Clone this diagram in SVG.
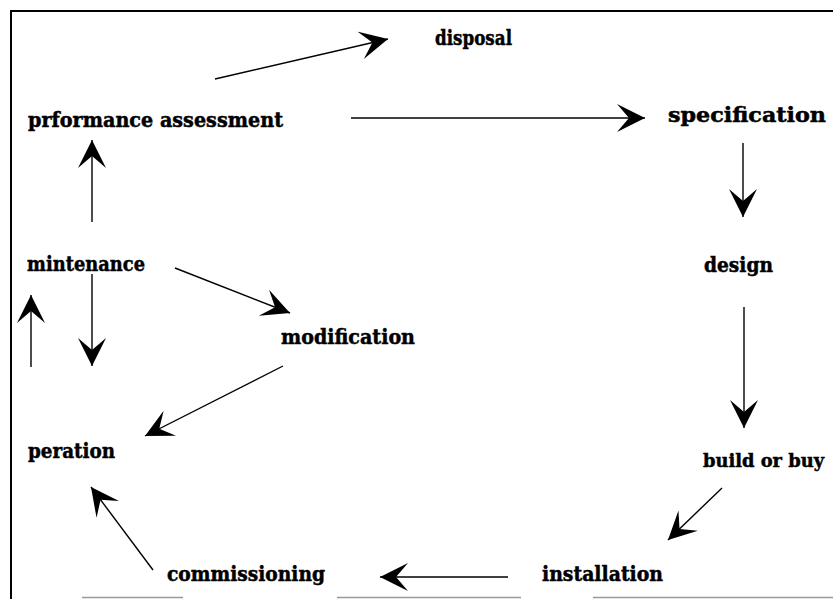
<svg xmlns="http://www.w3.org/2000/svg" width="833" height="599" viewBox="0 0 833 599">
  <style>
    .lbl { font-family: "DejaVu Serif", "Liberation Serif", serif; font-weight: bold; font-size: 21px; fill: #000; stroke: #000; stroke-width: 0.5; }
    .lbl.tight { font-size: 19px; }
    .edge { stroke: #000; stroke-width: 1.4; fill: none; marker-end: url(#head); }
    .frame { stroke: #000; stroke-width: 2; fill: none; }
    .rule { stroke: #999; stroke-width: 1.5; fill: none; }
  </style>
  <defs>
    <marker id="head" markerUnits="userSpaceOnUse" markerWidth="30" markerHeight="30" refX="28" refY="14" orient="auto">
      <path d="M0,0 L28,14 L0,28 L12,14 Z" fill="#000"/>
    </marker>
  </defs>
  <rect width="833" height="599" fill="#fff"/>

  <!-- frame -->
  <g id="frame">
    <line class="frame" x1="10" y1="11" x2="833" y2="11"/>
    <line class="frame" x1="11" y1="10" x2="11" y2="599"/>
    <line class="rule" x1="82" y1="597.5" x2="183" y2="597.5"/>
    <line class="rule" x1="337" y1="597.5" x2="521" y2="597.5"/>
    <line class="rule" x1="593" y1="597.5" x2="833" y2="597.5"/>
  </g>

  <!-- connectors -->
  <g id="connectors">
    <line class="edge" x1="215" y1="79" x2="388" y2="39"/>
    <line class="edge" x1="351" y1="118" x2="645" y2="118"/>
    <line class="edge" x1="743" y1="143" x2="743" y2="217"/>
    <line class="edge" x1="744" y1="307" x2="744" y2="428"/>
    <line class="edge" x1="722" y1="488" x2="668" y2="540"/>
    <line class="edge" x1="508" y1="577" x2="380" y2="577"/>
    <line class="edge" x1="153" y1="570" x2="91" y2="487"/>
    <line class="edge" x1="283" y1="366" x2="145" y2="436"/>
    <line class="edge" x1="175" y1="268" x2="290" y2="313"/>
    <line class="edge" x1="92" y1="274" x2="92" y2="366"/>
    <line class="edge" x1="31" y1="367" x2="31" y2="295"/>
    <line class="edge" x1="92" y1="222" x2="92" y2="140"/>
  </g>

  <!-- nodes -->
  <g id="disposal"><text class="lbl" x="435" y="45" textLength="77" lengthAdjust="spacingAndGlyphs">disposal</text></g>
  <g id="performance-assessment"><text class="lbl" x="28" y="127" textLength="255" lengthAdjust="spacingAndGlyphs">prformance assessment</text></g>
  <g id="specification"><text class="lbl" x="668" y="122" textLength="158" lengthAdjust="spacingAndGlyphs">specification</text></g>
  <g id="design"><text class="lbl" x="704" y="272" textLength="69" lengthAdjust="spacingAndGlyphs">design</text></g>
  <g id="maintenance"><text class="lbl" x="27" y="271" textLength="118" lengthAdjust="spacingAndGlyphs">mintenance</text></g>
  <g id="modification"><text class="lbl" x="281" y="344" textLength="134" lengthAdjust="spacingAndGlyphs">modification</text></g>
  <g id="operation"><text class="lbl" x="28" y="458" textLength="87" lengthAdjust="spacingAndGlyphs">peration</text></g>
  <g id="build-or-buy"><text class="lbl tight" x="703" y="467" textLength="121" lengthAdjust="spacingAndGlyphs">build or buy</text></g>
  <g id="installation"><text class="lbl" x="542" y="581" textLength="121" lengthAdjust="spacingAndGlyphs">installation</text></g>
  <g id="commissioning"><text class="lbl" x="167" y="581" textLength="158" lengthAdjust="spacingAndGlyphs">commissioning</text></g>
</svg>
